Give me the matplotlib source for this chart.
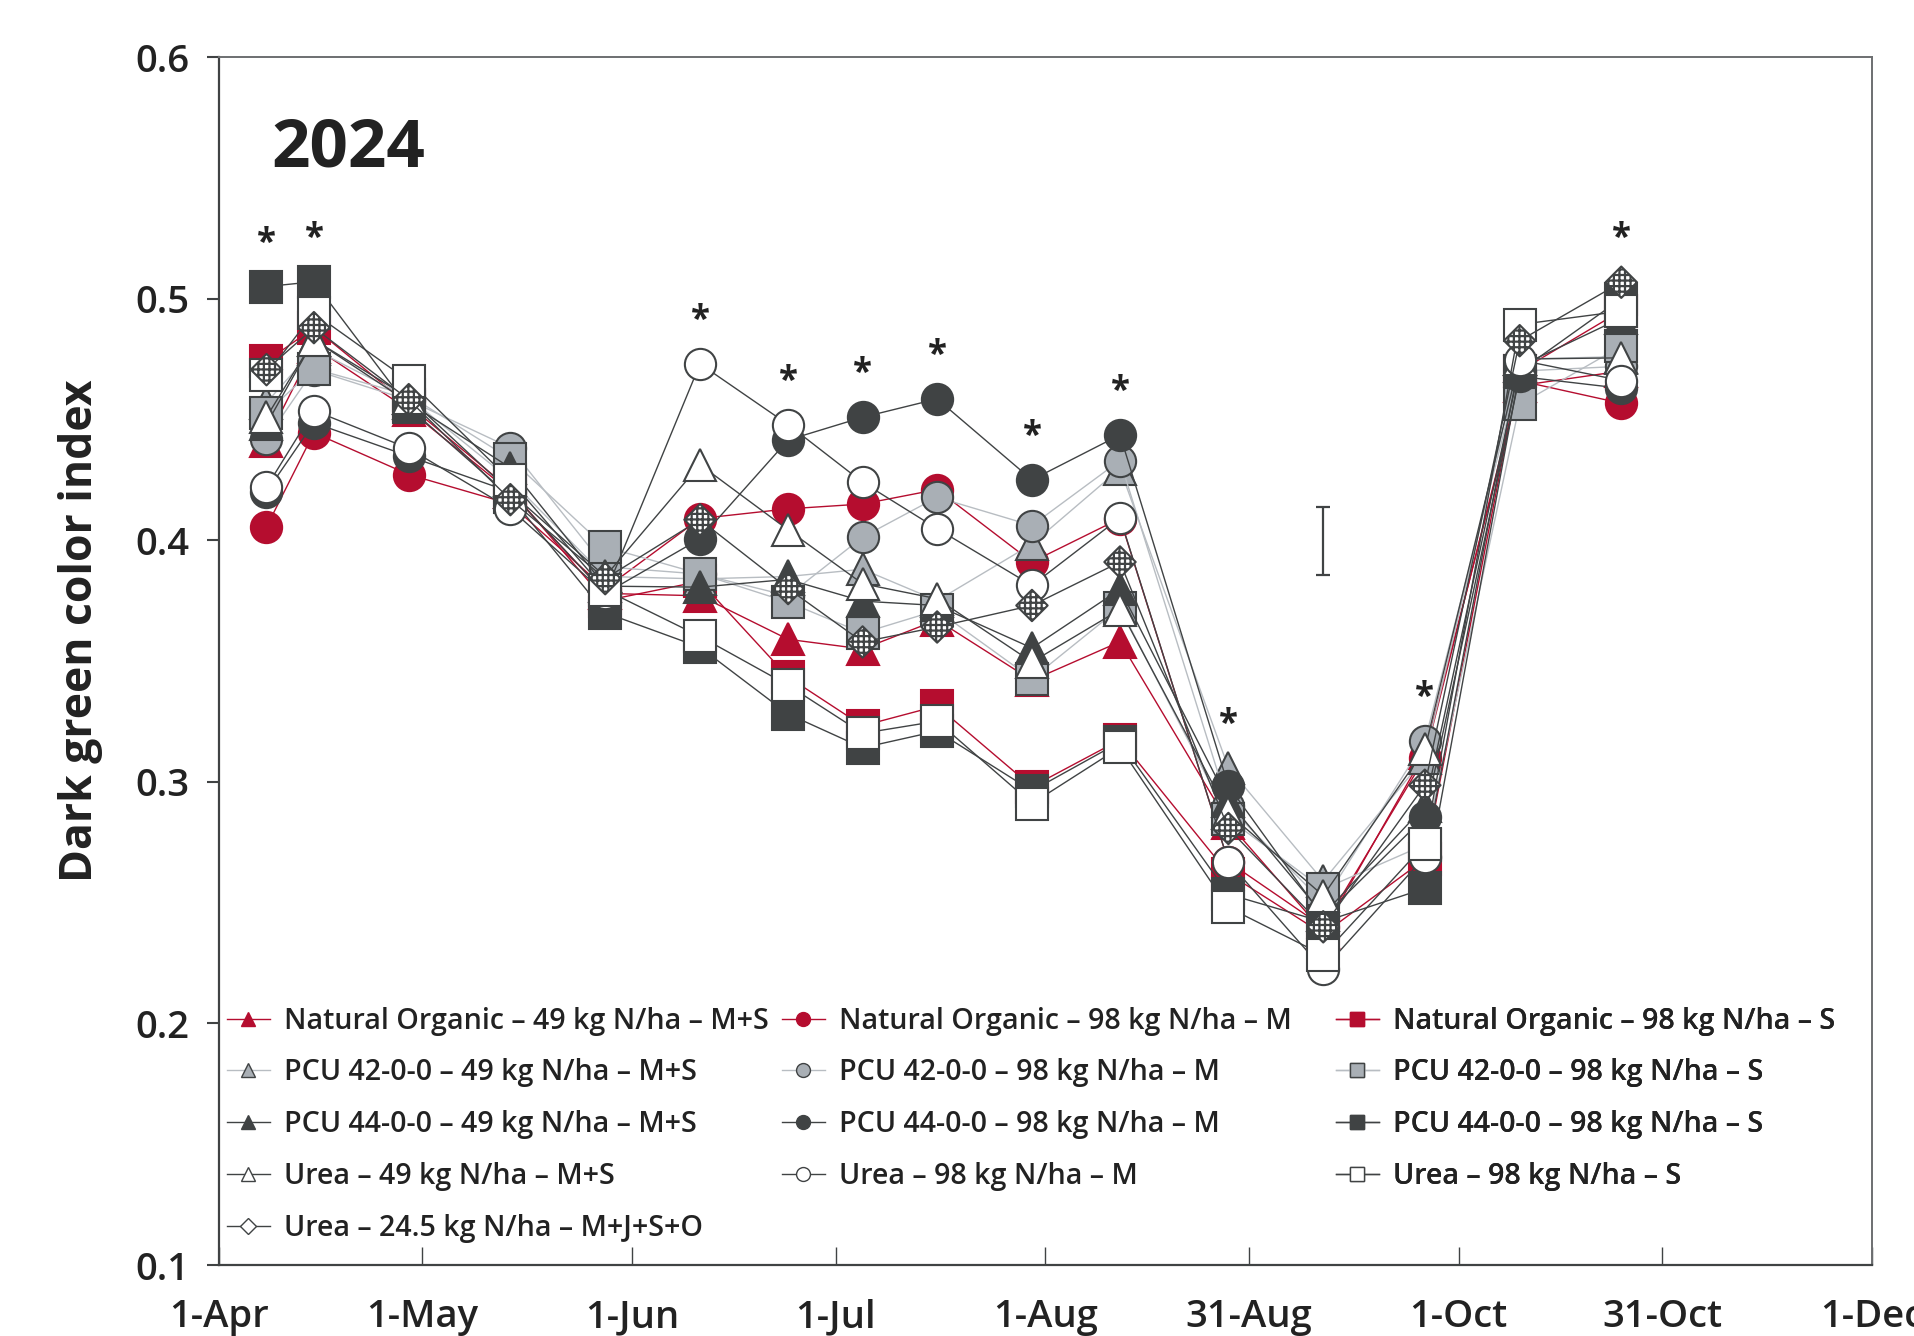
import numpy as np
import pandas as pd
import matplotlib
import matplotlib.pyplot as plt
from matplotlib.lines import Line2D

matplotlib.use('Agg')

plt.rcParams['font.family'] = ['Open Sans', 'DejaVu Sans']
plt.rcParams['hatch.linewidth'] = 1.6

# sampling dates (2024 season)
dates = pd.to_datetime(['2024-04-08', '2024-04-15', '2024-04-29', '2024-05-14', '2024-05-28',
                        '2024-06-11', '2024-06-24', '2024-07-05', '2024-07-16', '2024-07-30',
                        '2024-08-12', '2024-08-28', '2024-09-11', '2024-09-26', '2024-10-10',
                        '2024-10-25'])

tick_dates = pd.to_datetime(['2024-04-01', '2024-05-01', '2024-06-01', '2024-07-01', '2024-08-01',
                             '2024-08-31', '2024-10-01', '2024-10-31', '2024-12-01'])
tick_labels = ['1-Apr', '1-May', '1-Jun', '1-Jul', '1-Aug', '31-Aug', '1-Oct', '31-Oct', '1-Dec']

# dark green color index per treatment
no_49_ms = [0.441, 0.480, 0.454, 0.420, 0.378, 0.377, 0.359, 0.355, 0.367, 0.342, 0.358, 0.283, 0.238, 0.312, 0.464, 0.470]
no_98_m = [0.4055, 0.4445, 0.4272, 0.415, 0.380, 0.409, 0.413, 0.415, 0.421, 0.391, 0.409, 0.2669, 0.240, 0.310, 0.466, 0.4567]
no_98_s = [0.474, 0.488, 0.456, 0.421, 0.375, 0.383, 0.3434, 0.3232, 0.3314, 0.298, 0.3174, 0.262, 0.237, 0.268, 0.470, 0.495]
p42_49_ms = [0.457, 0.479, 0.459, 0.425, 0.385, 0.384, 0.385, 0.388, 0.375, 0.3984, 0.4296, 0.3059, 0.259, 0.310, 0.475, 0.476]
p42_98_m = [0.442, 0.4705, 0.458, 0.4383, 0.389, 0.386, 0.377, 0.4013, 0.4178, 0.4061, 0.433, 0.290, 0.250, 0.3168, 0.470, 0.472]
p42_98_s = [0.4527, 0.471, 0.460, 0.4337, 0.3972, 0.3861, 0.3744, 0.3616, 0.3710, 0.3427, 0.3721, 0.2848, 0.2556, 0.274, 0.4562, 0.4803]
p44_49_ms = [0.448, 0.483, 0.457, 0.430, 0.381, 0.3806, 0.3838, 0.3748, 0.373, 0.3554, 0.3797, 0.292, 0.245, 0.290, 0.472, 0.492]
p44_98_m = [0.420, 0.4486, 0.4348, 0.420, 0.378, 0.4006, 0.4415, 0.4509, 0.4585, 0.425, 0.4436, 0.2983, 0.244, 0.2855, 0.4678, 0.4629]
p44_98_s = [0.505, 0.507, 0.455, 0.418, 0.370, 0.3557, 0.3281, 0.3141, 0.3210, 0.2963, 0.3165, 0.2535, 0.242, 0.2559, 0.470, 0.500]
urea_49_ms = [0.451, 0.483, 0.459, 0.420, 0.385, 0.4313, 0.4043, 0.3820, 0.3758, 0.3496, 0.3713, 0.287, 0.2529, 0.3135, 0.475, 0.4755]
urea_98_m = [0.422, 0.4537, 0.438, 0.4130, 0.378, 0.4730, 0.4479, 0.4240, 0.4048, 0.3813, 0.4093, 0.2669, 0.2224, 0.2690, 0.4746, 0.4661]
urea_98_s = [0.4686, 0.494, 0.466, 0.4248, 0.3795, 0.3602, 0.3400, 0.3201, 0.3251, 0.2910, 0.3143, 0.2480, 0.2283, 0.2741, 0.4893, 0.4948]
urea_245 = [0.4706, 0.488, 0.4582, 0.4168, 0.3841, 0.4085, 0.3800, 0.3579, 0.3641, 0.3730, 0.3910, 0.2807, 0.2400, 0.2986, 0.4826, 0.5068]

# dates flagged as significant
star_idx = [0, 1, 5, 6, 7, 8, 9, 10, 11, 13, 15]

# LSD bar
lsd_date = pd.Timestamp('2024-09-11')
lsd_center = 0.3996
lsd_half = 0.0141

RED = '#b50d2f'
GREY = '#a9afb5'
GREY_LN = '#b8bdc2'
DARK = '#404344'
WHITE = '#ffffff'
TXT = '#222222'

series = [
    ('Natural Organic – 49 kg N/ha – M+S', no_49_ms, '^', RED, RED, RED),
    ('Natural Organic – 98 kg N/ha – M', no_98_m, 'o', RED, RED, RED),
    ('Natural Organic – 98 kg N/ha – S', no_98_s, 's', RED, RED, RED),
    ('PCU 42-0-0 – 49 kg N/ha – M+S', p42_49_ms, '^', GREY, DARK, GREY_LN),
    ('PCU 42-0-0 – 98 kg N/ha – M', p42_98_m, 'o', GREY, DARK, GREY_LN),
    ('PCU 42-0-0 – 98 kg N/ha – S', p42_98_s, 's', GREY, DARK, GREY_LN),
    ('PCU 44-0-0 – 49 kg N/ha – M+S', p44_49_ms, '^', DARK, DARK, DARK),
    ('PCU 44-0-0 – 98 kg N/ha – M', p44_98_m, 'o', DARK, DARK, DARK),
    ('PCU 44-0-0 – 98 kg N/ha – S', p44_98_s, 's', DARK, DARK, DARK),
    ('Urea – 49 kg N/ha – M+S', urea_49_ms, '^', WHITE, DARK, DARK),
    ('Urea – 98 kg N/ha – M', urea_98_m, 'o', WHITE, DARK, DARK),
    ('Urea – 98 kg N/ha – S', urea_98_s, 's', WHITE, DARK, DARK),
]

fig = plt.figure(figsize=(19.15, 13.36), dpi=100)
ax = fig.add_axes([0.1144, 0.0531, 0.8631, 0.9042])

handles = []
for label, vals, mk, fc, ec, lc in series:
    ax.plot(dates, vals, color=lc, lw=1.0, marker=mk, ms=22.5, mfc=fc, mec=ec, mew=1.5)
    handles.append(Line2D([], [], color=lc, lw=1.0, marker=mk, ms=10, mfc=fc, mec=ec, mew=1.0, label=label))

# split-application urea: hatched diamonds
ax.plot(dates, urea_245, color=DARK, lw=1.0)
ax.scatter(dates, urea_245, marker='D', s=16 ** 2, facecolor=WHITE, edgecolor=DARK,
           linewidths=1.5, hatch='+++', zorder=3)
handles.append(Line2D([], [], color=DARK, lw=1.0, marker='D', ms=8, mfc=WHITE, mec=DARK,
                      mew=1.0, label='Urea – 24.5 kg N/ha – M+J+S+O'))

# significance asterisks above each flagged date
all_vals = np.array([s[1] for s in series] + [urea_245])
tops = all_vals.max(axis=0)
for i in star_idx:
    ax.annotate('*', (dates[i], tops[i]), xytext=(0, 31), textcoords='offset points',
                ha='center', va='center', fontsize=25, fontweight='bold', color=TXT)

ax.errorbar([lsd_date], [lsd_center], yerr=[lsd_half], fmt='none', ecolor=DARK,
            elinewidth=1.6, capsize=5, capthick=1.6)

ax.text(0.0315, 0.924, '2024', transform=ax.transAxes, ha='left', va='center',
        fontsize=48.5, fontweight='bold', color=TXT)

ax.set_xlim(tick_dates[0], tick_dates[-1])
ax.set_ylim(0.1, 0.6)
ax.set_xticks(tick_dates)
ax.set_xticklabels(tick_labels)
ax.set_yticks(np.arange(0.1, 0.61, 0.1))
ax.set_yticklabels(['0.1', '0.2', '0.3', '0.4', '0.5', '0.6'])

ax.tick_params(axis='y', direction='out', length=8.5, width=1.5, pad=13, color=DARK,
               labelsize=27.5, labelcolor=TXT)
ax.tick_params(axis='x', direction='in', length=13, width=1.0, pad=24, color=DARK,
               labelsize=27.5, labelcolor=TXT)
for lbl in ax.get_xticklabels() + ax.get_yticklabels():
    lbl.set_fontweight('semibold')

for side in ['left', 'bottom']:
    ax.spines[side].set_color(DARK)
    ax.spines[side].set_linewidth(1.6)
for side in ['top', 'right']:
    ax.spines[side].set_color('#6d6f71')
    ax.spines[side].set_linewidth(1.4)

ax.set_ylabel('Dark green color index', fontsize=32, fontweight='bold', color=TXT)
ax.yaxis.set_label_coords(-0.070, 0.525)

# legend laid out row by row in three columns
col_x = [0.0048, 0.3406, 0.6757]
for c in range(3):
    col_handles = handles[c::3]
    leg = ax.legend(handles=col_handles, loc='upper left', bbox_to_anchor=(col_x[c], 0.214),
                    frameon=False, prop={'size': 20.6, 'weight': 'semibold'},
                    handlelength=1.5, handletextpad=0.5,
                    labelspacing=0.8, borderpad=0, borderaxespad=0, labelcolor=TXT)
    ax.add_artist(leg)

fig.savefig('out.png', dpi=100)
